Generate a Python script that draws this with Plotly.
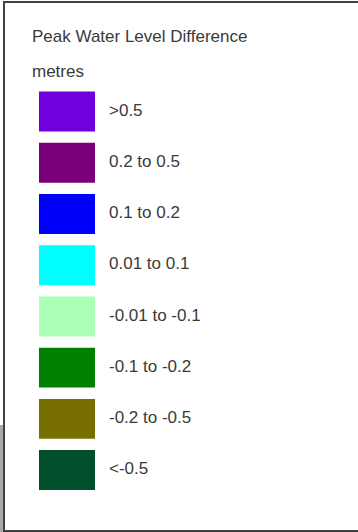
import plotly.graph_objects as go

# Legend classes (top to bottom)
class_labels = [">0.5", "0.2 to 0.5", "0.1 to 0.2", "0.01 to 0.1",
                "-0.01 to -0.1", "-0.1 to -0.2", "-0.2 to -0.5", "<-0.5"]
class_colors = ["#7200DE", "#7A007A", "#0000F8", "#00FFFF",
                "#AAFFB4", "#008000", "#777000", "#00512B"]
swatch_len = [1] * len(class_labels)
label_pos = [1.25] * len(class_labels)

title_text = "Peak Water Level Difference"
unit_text = "metres"

W, H = 358, 532
FONT = "Liberation Sans, Arial, sans-serif"
TXT = "#3a3a3a"
BC = "#404040"

fig = go.Figure()
fig.add_trace(go.Bar(
    y=class_labels, x=swatch_len, orientation="h",
    marker=dict(color=class_colors, line=dict(width=0)),
    width=0.78, hoverinfo="skip", showlegend=False,
))
fig.add_trace(go.Scatter(
    y=class_labels, x=label_pos, mode="text", text=class_labels,
    textposition="middle right",
    textfont=dict(family=FONT, size=17, color=TXT),
    hoverinfo="skip", showlegend=False,
))
# empty trace that makes the frame subplot exist
fig.add_trace(go.Scatter(x=[], y=[], xaxis="x2", yaxis="y2",
                         hoverinfo="skip", showlegend=False))

px_per_unit = 56.0
x0_px = 39.0
fig.update_layout(
    xaxis=dict(range=[-x0_px / px_per_unit, (W - x0_px) / px_per_unit],
               domain=[0, 1], visible=False, fixedrange=True),
    yaxis=dict(type="category", categoryorder="array", categoryarray=class_labels,
               range=[len(class_labels) - 0.5, -0.5],
               domain=[1 - 495.7 / H, 1 - 85.9 / H], visible=False, fixedrange=True),
    # frame: top/bottom/left edges drawn as axis lines
    xaxis2=dict(domain=[5 / W, 1], anchor="y2", range=[0, 1],
                showline=True, mirror=True, linecolor=BC, linewidth=2,
                showgrid=False, zeroline=False, showticklabels=False, ticks=""),
    yaxis2=dict(domain=[1 - 529.5 / H, 1 - 3 / H], anchor="x2", range=[0, 1],
                showline=True, mirror=False, side="left", linecolor=BC, linewidth=2,
                showgrid=False, zeroline=False, showticklabels=False, ticks=""),
)

fig.update_layout(
    width=W, height=H, margin=dict(l=0, r=0, t=0, b=0),
    paper_bgcolor="white", plot_bgcolor="rgba(0,0,0,0)",
    shapes=[
        dict(type="rect", xref="paper", yref="paper",
             x0=0, x1=4 / W, y0=0, y1=1 - 425 / H,
             fillcolor="#a8a8a8", line=dict(width=0), layer="below"),
    ],
    annotations=[
        dict(text=title_text, xref="paper", yref="paper", x=30 / W, y=1 - 36 / H,
             xanchor="left", yanchor="middle", showarrow=False,
             font=dict(family=FONT, size=17, color=TXT)),
        dict(text=unit_text, xref="paper", yref="paper", x=30 / W, y=1 - 71 / H,
             xanchor="left", yanchor="middle", showarrow=False,
             font=dict(family=FONT, size=17, color=TXT)),
    ],
)

fig.write_html("out.html", config={"displayModeBar": False, "staticPlot": True},
               post_script="document.body.style.margin='0';document.body.style.overflow='hidden';")
